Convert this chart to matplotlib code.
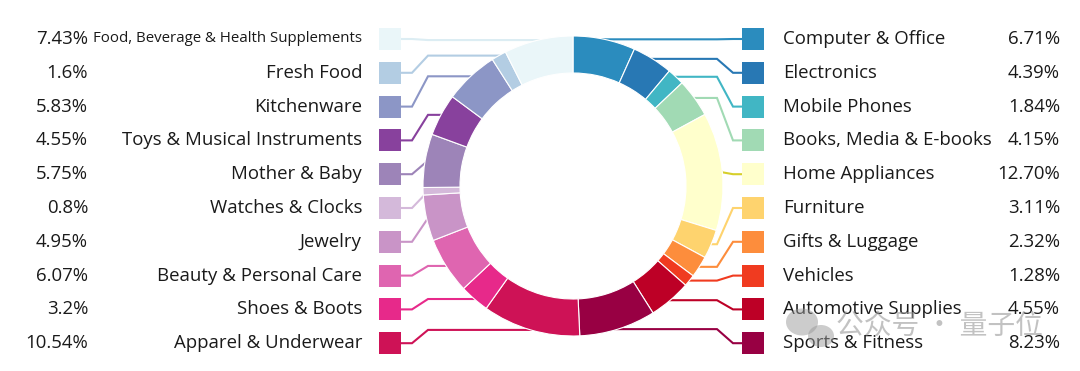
import numpy as np
import matplotlib.pyplot as plt
from matplotlib.patches import Ellipse

# legend order, top to bottom
left_labels = ["Food, Beverage & Health Supplements", "Fresh Food", "Kitchenware",
               "Toys & Musical Instruments", "Mother & Baby", "Watches & Clocks",
               "Jewelry", "Beauty & Personal Care", "Shoes & Boots", "Apparel & Underwear"]
left_values = [7.43, 1.6, 5.83, 4.55, 5.75, 0.8, 4.95, 6.07, 3.2, 10.54]
left_text = ["7.43%", "1.6%", "5.83%", "4.55%", "5.75%", "0.8%", "4.95%", "6.07%", "3.2%", "10.54%"]

right_labels = ["Computer & Office", "Electronics", "Mobile Phones", "Books, Media & E-books",
                "Home Appliances", "Furniture", "Gifts & Luggage", "Vehicles",
                "Automotive Supplies", "Sports & Fitness"]
right_values = [6.71, 4.39, 1.84, 4.15, 12.70, 3.11, 2.32, 1.28, 4.55, 8.23]
right_text = ["6.71%", "4.39%", "1.84%", "4.15%", "12.70%", "3.11%", "2.32%", "1.28%", "4.55%", "8.23%"]

left_colors = ["#eaf6f9", "#b3cde3", "#8c96c6", "#88419d", "#9d84b8",
               "#d4b9da", "#c994c7", "#df65b0", "#e7298a", "#ce1256"]
right_colors = ["#2b8cbe", "#2878b4", "#41b6c4", "#a1dab4", "#ffffcc",
                "#fed36e", "#fd8d3c", "#f03b20", "#bd0026", "#980043"]
# connector colours (pale fills get a darker line)
left_line = ["#dcedf3"] + left_colors[1:]
right_line = right_colors[:4] + ["#d6cf2a"] + right_colors[5:]

W, H = 1080, 371
fig = plt.figure(figsize=(W / 100, H / 100), dpi=100)
ax = fig.add_axes([0, 0, 1, 1])

cx, cy = 573, H - 186
R, ring = 150, 37

# clockwise from 12 o'clock: right column, then left column bottom-up
values = right_values + left_values[::-1]
colors = right_colors + left_colors[::-1]
wedges, _ = ax.pie(values, colors=colors, center=(cx, cy), radius=R, startangle=90,
                   counterclock=False,
                   wedgeprops=dict(width=ring, edgecolor="white", linewidth=0.8))
for w in wedges:
    w.set_zorder(2)

row_y = [H - (39 + i * 33.8) for i in range(10)]
sq = 22


def mid_point(w):
    a = np.deg2rad((w.theta1 + w.theta2) / 2)
    return cx + R * np.cos(a), cy + R * np.sin(a)


# right side connectors
for i in range(10):
    px, py = mid_point(wedges[i])
    sy = row_y[i]
    xs = [px - 20, px, 717, 733, 742]
    ys = [py, py, py, sy, sy]
    ax.plot(xs, ys, color=right_line[i], lw=1.5, zorder=1, solid_joinstyle="miter")

# left side connectors
for i in range(10):
    w = wedges[len(wedges) - 1 - i]
    px, py = mid_point(w)
    sy = row_y[i]
    xs = [px + 20, px, 428, 412, 401]
    ys = [py, py, py, sy, sy]
    ax.plot(xs, ys, color=left_line[i], lw=1.5, zorder=1, solid_joinstyle="miter")

ms = (sq * 0.72) ** 2
ax.scatter([390] * 10, row_y, s=ms, marker="s", c=left_colors, linewidths=0, zorder=3)
ax.scatter([753] * 10, row_y, s=ms, marker="s", c=right_colors, linewidths=0, zorder=3)

font = "Open Sans"
tc = "#1a1a1a"
fs = 13.4
for i in range(10):
    ax.text(88, row_y[i], left_text[i], ha="right", va="center", fontsize=fs,
            family=font, color=tc)
    ax.text(362, row_y[i], left_labels[i], ha="right", va="center",
            fontsize=10.8 if i == 0 else fs, family=font, color=tc)
    ax.text(783, row_y[i], right_labels[i], ha="left", va="center", fontsize=fs,
            family=font, color=tc)
    ax.text(1060, row_y[i], right_text[i], ha="right", va="center", fontsize=fs,
            family=font, color=tc)

# watermark
wm = "#9a9a9a"
ax.add_patch(Ellipse((802, H - 322), 32, 27, color=wm, alpha=0.5, zorder=4, lw=0))
ax.add_patch(Ellipse((821, H - 336), 26, 22, color=wm, alpha=0.5, zorder=4, lw=0))
ax.text(836, H - 326, "公众号 · 量子位", ha="left", va="center", fontsize=20,
        family=["Noto Sans CJK SC", "DejaVu Sans"], color=wm, alpha=0.6, zorder=4)

ax.set_xlim(0, W)
ax.set_ylim(0, H)
ax.set_aspect("equal")
ax.axis("off")

fig.savefig("out.png", dpi=100, facecolor="white")
